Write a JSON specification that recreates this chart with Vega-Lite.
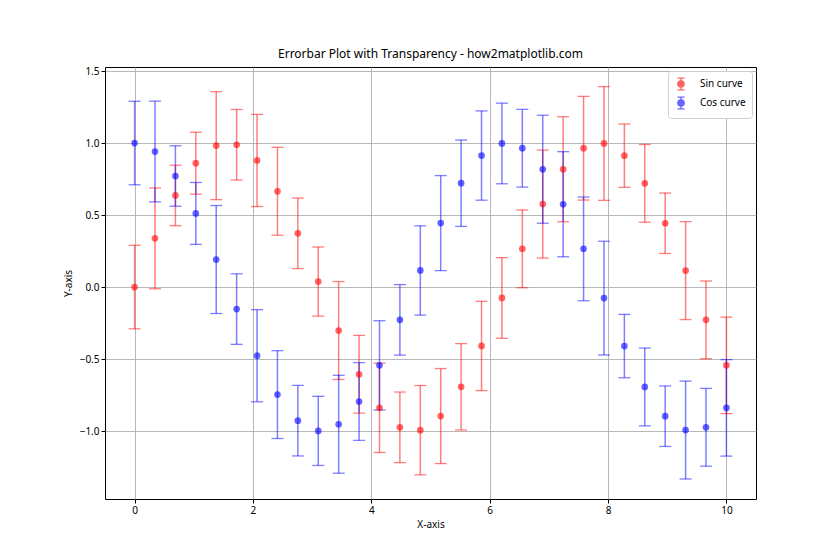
{
  "$schema": "https://vega.github.io/schema/vega-lite/v6.json",
  "width": 651,
  "height": 432,
  "autosize": {"type": "none"},
  "padding": {"left": 105, "top": 67, "right": 84, "bottom": 61},
  "background": "white",
  "title": {"text": "Errorbar Plot with Transparency - how2matplotlib.com", "fontSize": 12, "font": "Noto Sans", "fontWeight": "normal", "color": "black", "offset": 5},
  "config": {
    "view": {"stroke": "black", "strokeWidth": 1},
    "axis": {"labelFont": "Noto Sans", "titleFont": "Noto Sans", "labelFontSize": 10, "titleFontSize": 10, "titleFontWeight": "normal", "labelColor": "black", "titleColor": "black", "domainColor": "black", "tickColor": "black", "tickSize": 4, "gridColor": "#b0b0b0", "gridWidth": 0.9, "domain": false},
    "legend": {"labelFont": "Noto Sans", "labelFontSize": 10, "labelColor": "black"}
  },
  "data": {"values": [
    {"x": 0, "y": 0, "lo": -0.29, "hi": 0.29, "series": "Sin curve"},
    {"x": 0.3448, "y": 0.338, "lo": -0.012, "hi": 0.688, "series": "Sin curve"},
    {"x": 0.6897, "y": 0.636, "lo": 0.426, "hi": 0.846, "series": "Sin curve"},
    {"x": 1.0345, "y": 0.86, "lo": 0.645, "hi": 1.075, "series": "Sin curve"},
    {"x": 1.3793, "y": 0.982, "lo": 0.607, "hi": 1.357, "series": "Sin curve"},
    {"x": 1.7241, "y": 0.988, "lo": 0.743, "hi": 1.233, "series": "Sin curve"},
    {"x": 2.069, "y": 0.879, "lo": 0.559, "hi": 1.199, "series": "Sin curve"},
    {"x": 2.4138, "y": 0.665, "lo": 0.36, "hi": 0.97, "series": "Sin curve"},
    {"x": 2.7586, "y": 0.373, "lo": 0.128, "hi": 0.618, "series": "Sin curve"},
    {"x": 3.1034, "y": 0.038, "lo": -0.202, "hi": 0.278, "series": "Sin curve"},
    {"x": 3.4483, "y": -0.302, "lo": -0.642, "hi": 0.038, "series": "Sin curve"},
    {"x": 3.7931, "y": -0.606, "lo": -0.876, "hi": -0.336, "series": "Sin curve"},
    {"x": 4.1379, "y": -0.839, "lo": -1.149, "hi": -0.529, "series": "Sin curve"},
    {"x": 4.4828, "y": -0.974, "lo": -1.219, "hi": -0.729, "series": "Sin curve"},
    {"x": 4.8276, "y": -0.994, "lo": -1.304, "hi": -0.684, "series": "Sin curve"},
    {"x": 5.1724, "y": -0.896, "lo": -1.226, "hi": -0.566, "series": "Sin curve"},
    {"x": 5.5172, "y": -0.693, "lo": -0.993, "hi": -0.393, "series": "Sin curve"},
    {"x": 5.8621, "y": -0.409, "lo": -0.719, "hi": -0.099, "series": "Sin curve"},
    {"x": 6.2069, "y": -0.076, "lo": -0.356, "hi": 0.204, "series": "Sin curve"},
    {"x": 6.5517, "y": 0.265, "lo": -0.005, "hi": 0.535, "series": "Sin curve"},
    {"x": 6.8966, "y": 0.576, "lo": 0.201, "hi": 0.951, "series": "Sin curve"},
    {"x": 7.2414, "y": 0.818, "lo": 0.453, "hi": 1.183, "series": "Sin curve"},
    {"x": 7.5862, "y": 0.964, "lo": 0.604, "hi": 1.324, "series": "Sin curve"},
    {"x": 7.931, "y": 0.997, "lo": 0.602, "hi": 1.392, "series": "Sin curve"},
    {"x": 8.2759, "y": 0.912, "lo": 0.692, "hi": 1.132, "series": "Sin curve"},
    {"x": 8.6207, "y": 0.72, "lo": 0.45, "hi": 0.99, "series": "Sin curve"},
    {"x": 8.9655, "y": 0.443, "lo": 0.233, "hi": 0.653, "series": "Sin curve"},
    {"x": 9.3103, "y": 0.114, "lo": -0.226, "hi": 0.454, "series": "Sin curve"},
    {"x": 9.6552, "y": -0.228, "lo": -0.498, "hi": 0.042, "series": "Sin curve"},
    {"x": 10, "y": -0.544, "lo": -0.879, "hi": -0.209, "series": "Sin curve"},
    {"x": 0, "y": 1, "lo": 0.71, "hi": 1.29, "series": "Cos curve"},
    {"x": 0.3448, "y": 0.941, "lo": 0.591, "hi": 1.291, "series": "Cos curve"},
    {"x": 0.6897, "y": 0.771, "lo": 0.561, "hi": 0.981, "series": "Cos curve"},
    {"x": 1.0345, "y": 0.511, "lo": 0.296, "hi": 0.726, "series": "Cos curve"},
    {"x": 1.3793, "y": 0.191, "lo": -0.184, "hi": 0.566, "series": "Cos curve"},
    {"x": 1.7241, "y": -0.153, "lo": -0.398, "hi": 0.092, "series": "Cos curve"},
    {"x": 2.069, "y": -0.477, "lo": -0.797, "hi": -0.157, "series": "Cos curve"},
    {"x": 2.4138, "y": -0.747, "lo": -1.052, "hi": -0.442, "series": "Cos curve"},
    {"x": 2.7586, "y": -0.928, "lo": -1.173, "hi": -0.683, "series": "Cos curve"},
    {"x": 3.1034, "y": -0.999, "lo": -1.239, "hi": -0.759, "series": "Cos curve"},
    {"x": 3.4483, "y": -0.953, "lo": -1.293, "hi": -0.613, "series": "Cos curve"},
    {"x": 3.7931, "y": -0.795, "lo": -1.065, "hi": -0.525, "series": "Cos curve"},
    {"x": 4.1379, "y": -0.544, "lo": -0.854, "hi": -0.234, "series": "Cos curve"},
    {"x": 4.4828, "y": -0.228, "lo": -0.473, "hi": 0.017, "series": "Cos curve"},
    {"x": 4.8276, "y": 0.115, "lo": -0.195, "hi": 0.425, "series": "Cos curve"},
    {"x": 5.1724, "y": 0.444, "lo": 0.114, "hi": 0.774, "series": "Cos curve"},
    {"x": 5.5172, "y": 0.721, "lo": 0.421, "hi": 1.021, "series": "Cos curve"},
    {"x": 5.8621, "y": 0.913, "lo": 0.603, "hi": 1.223, "series": "Cos curve"},
    {"x": 6.2069, "y": 0.997, "lo": 0.717, "hi": 1.277, "series": "Cos curve"},
    {"x": 6.5517, "y": 0.964, "lo": 0.694, "hi": 1.234, "series": "Cos curve"},
    {"x": 6.8966, "y": 0.818, "lo": 0.443, "hi": 1.193, "series": "Cos curve"},
    {"x": 7.2414, "y": 0.575, "lo": 0.21, "hi": 0.94, "series": "Cos curve"},
    {"x": 7.5862, "y": 0.265, "lo": -0.095, "hi": 0.625, "series": "Cos curve"},
    {"x": 7.931, "y": -0.077, "lo": -0.472, "hi": 0.318, "series": "Cos curve"},
    {"x": 8.2759, "y": -0.41, "lo": -0.63, "hi": -0.19, "series": "Cos curve"},
    {"x": 8.6207, "y": -0.694, "lo": -0.964, "hi": -0.424, "series": "Cos curve"},
    {"x": 8.9655, "y": -0.897, "lo": -1.107, "hi": -0.687, "series": "Cos curve"},
    {"x": 9.3103, "y": -0.993, "lo": -1.333, "hi": -0.653, "series": "Cos curve"},
    {"x": 9.6552, "y": -0.974, "lo": -1.244, "hi": -0.704, "series": "Cos curve"},
    {"x": 10, "y": -0.839, "lo": -1.174, "hi": -0.504, "series": "Cos curve"}
  ]},
  "encoding": {
    "x": {"field": "x", "type": "quantitative", "scale": {"domain": [-0.5, 10.5], "nice": false, "zero": false}, "axis": {"title": "X-axis", "values": [0, 2, 4, 6, 8, 10], "format": "d", "grid": true, "titlePadding": 4}},
    "color": {"field": "series", "type": "nominal", "scale": {"domain": ["Sin curve", "Cos curve"], "range": ["red", "blue"]},
      "legend": {"title": null, "orient": "top-right", "offset": 4, "padding": 6, "rowPadding": 1, "fillColor": "white", "strokeColor": "#d0d0d0", "cornerRadius": 3, "symbolSize": 140, "symbolOpacity": 0.6, "symbolStrokeWidth": 1.3,
        "symbolType": "M0,-1V1M-0.6,-1H0.6M-0.6,1H0.6M0.55,0A0.55,0.55 0 1,1 -0.55,0A0.55,0.55 0 1,1 0.55,0Z", "labelOffset": 12}}
  },
  "layer": [
    {
      "mark": {"type": "rule", "strokeWidth": 1.5, "opacity": 0.5},
      "encoding": {
        "y": {"field": "lo", "type": "quantitative", "scale": {"domain": [-1.472, 1.528], "nice": false, "zero": false}, "axis": {"title": "Y-axis", "values": [-1, -0.5, 0, 0.5, 1, 1.5], "format": ".1f", "grid": true, "titlePadding": 6}},
        "y2": {"field": "hi"}
      }
    },
    {
      "mark": {"type": "tick", "orient": "horizontal", "size": 12, "thickness": 1.3, "opacity": 0.5},
      "encoding": {"y": {"field": "lo", "type": "quantitative"}}
    },
    {
      "mark": {"type": "tick", "orient": "horizontal", "size": 12, "thickness": 1.3, "opacity": 0.5},
      "encoding": {"y": {"field": "hi", "type": "quantitative"}}
    },
    {
      "mark": {"type": "point", "filled": true, "shape": "circle", "size": 45, "opacity": 0.6},
      "encoding": {
        "y": {"field": "y", "type": "quantitative"}
      }
    }
  ]
}
